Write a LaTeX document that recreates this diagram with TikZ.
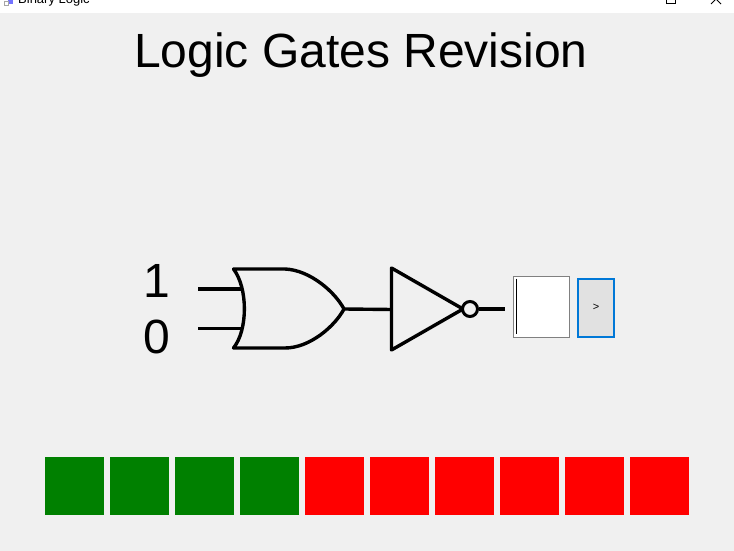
\documentclass[tikz,border=0pt]{standalone}
\usepackage{fontspec}
\setmainfont{Liberation Sans}
\definecolor{formbg}{HTML}{F0F0F0}
\definecolor{okgreen}{HTML}{008000}
\definecolor{badred}{HTML}{FF0000}
\definecolor{btnblue}{HTML}{0078D7}
\definecolor{btnfill}{HTML}{E1E1E1}
\tikzset{
  x=1pt,y=-1pt,
  gate/.style={draw=black,line width=3.4pt,line join=round},
  wire/.style={draw=black,line width=3.4pt},
  tile/.style={draw=none,minimum width=59pt,minimum height=58pt,inner sep=0pt,anchor=north west},
  digit/.style={font=\fontsize{48}{48}\selectfont,inner sep=0pt},
}
\begin{document}
\begin{tikzpicture}
\useasboundingbox (0,0) rectangle (734,551);
\fill[formbg] (0,0) rectangle (734,551);
\fill[white] (0,0) rectangle (734,13);
\begin{scope}
\clip (0,0) rectangle (734,13);
\fill[blue!55!white] (8,0) rectangle (13,4);
\draw[gray!70,line width=.7pt] (4,1.5) rectangle (8,5);
\node[anchor=base west,inner sep=0pt,font=\fontsize{13}{13}\selectfont] (apptitle) at (18,3.5) {Binary Logic};
\draw[black,line width=.9pt] (666,-6) rectangle (675,3);
\draw[black,line width=.9pt] (711,4) -- (716,-1) (721,4) -- (716,-1);
\end{scope}
\node[font=\fontsize{48}{48}\selectfont,inner sep=0pt,anchor=base] (heading) at (361,67) {Logic Gates Revision};
\node[digit,anchor=base] (one) at (156.5,297) {1};
\node[digit,anchor=base] (zero) at (156.5,353) {0};
% OR gate
\coordinate (ina) at (198,289);
\coordinate (inb) at (198,328.5);
\coordinate (orA) at (243,289);
\coordinate (orB) at (243,328.5);
\coordinate (orOut) at (344,309);
\coordinate (notIn) at (392,309.5);
\path[gate] (233.5,269) -- (285,269) .. controls (310,270) and (335,292) .. (orOut)
  .. controls (335,326) and (310,348) .. (285,348) -- (233.5,348)
  .. controls (248,330) and (248,288) .. (233.5,269) -- cycle;
\draw[wire] (ina) -- (orA);
\draw[wire] (inb) -- (orB);
% NOT gate
\coordinate (notTip) at (463,309);
\path[gate] (391.5,268) -- (notTip) -- (391.5,350) -- cycle;
\draw[wire] (orOut) -- (notIn);
\node[circle,draw=black,line width=3pt,fill=formbg,minimum size=15pt,inner sep=0pt] (bubble) at (470,309) {};
\coordinate (outEnd) at (505,309);
\draw[wire] (bubble) -- (outEnd);
% text box
\node[draw=black!50,fill=white,line width=1pt,minimum width=56pt,minimum height=61pt,inner sep=0pt,anchor=north west] (answer) at (513,276) {};
\draw[black,line width=1pt] (516,278.5) -- (516,333.5);
% button
\node[draw=btnblue,fill=btnfill,line width=2pt,minimum width=36pt,minimum height=58pt,inner sep=0pt,anchor=north west,font=\fontsize{11}{11}\selectfont] (go) at (577,277.5) {>};
% tiles
\foreach \i in {0,1,2,3} \node[tile,fill=okgreen] (g\i) at (45+65*\i,457) {};
\foreach \i in {4,...,9} \node[tile,fill=badred] (r\i) at (45+65*\i,457) {};
\end{tikzpicture}
\end{document}
